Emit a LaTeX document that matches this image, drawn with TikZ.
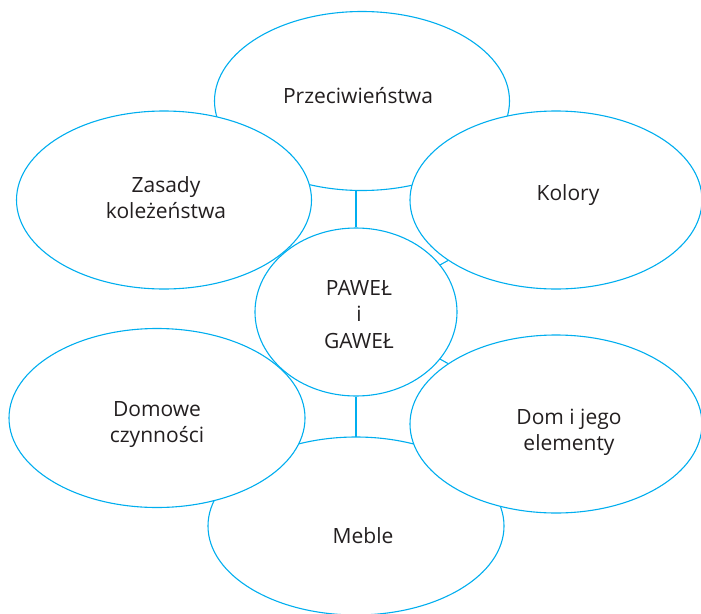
\documentclass[tikz,border=0pt]{standalone}
\usepackage{fontspec}
\setmainfont{Open Sans}
\usetikzlibrary{shapes.geometric}
\definecolor{cy}{RGB}{0,174,239}
\definecolor{tx}{RGB}{35,31,32}
\begin{document}
\begin{tikzpicture}[x=1pt,y=-1pt,
  bubble/.style={ellipse, draw=cy, fill=white, line width=1.1pt, inner sep=0pt},
  lbl/.style={font=\fontsize{21}{26.3}\selectfont, align=center, text=tx, inner sep=0pt, anchor=base},
  conn/.style={draw=cy, line width=1.1pt}]
\useasboundingbox (0,0) rectangle (701,613);
\node[bubble, minimum width=295pt, minimum height=179pt] (top) at (362,101) {};
\node[bubble, minimum width=296pt, minimum height=178pt] (meb) at (356,526) {};
\node[bubble, minimum width=295pt, minimum height=178pt] (zas) at (164,200) {};
\node[bubble, minimum width=292pt, minimum height=178pt] (kol) at (556,200) {};
\node[bubble, minimum width=296pt, minimum height=179pt] (dmw) at (157,418) {};
\node[bubble, minimum width=292pt, minimum height=178pt] (dom) at (556,424) {};
\node[bubble, minimum width=202pt, minimum height=168pt] (c) at (356,312) {};
\coordinate (ct) at (356,190);
\coordinate (cb) at (356,437);
\draw[conn] (c.north) -- (ct);
\draw[conn] (c.south) -- (cb);
\draw[conn] (c) -- (kol);
\draw[conn] (c) -- (dom);
\node[lbl] (t1) at (358,103) {Przeciwieństwa};
\node[lbl] (t2) at (166,218.3) {Zasady\\koleżeństwa};
\node[lbl] (t3) at (568,200) {Kolory};
\node[lbl] (t4) at (359,348) {PAWEŁ\\i\\GAWEŁ};
\node[lbl] (t5) at (157,442.5) {Domowe\\czynności};
\node[lbl] (t6) at (569,450.5) {Dom i jego\\elementy};
\node[lbl] (t7) at (363,543.5) {Meble};
\end{tikzpicture}
\end{document}
